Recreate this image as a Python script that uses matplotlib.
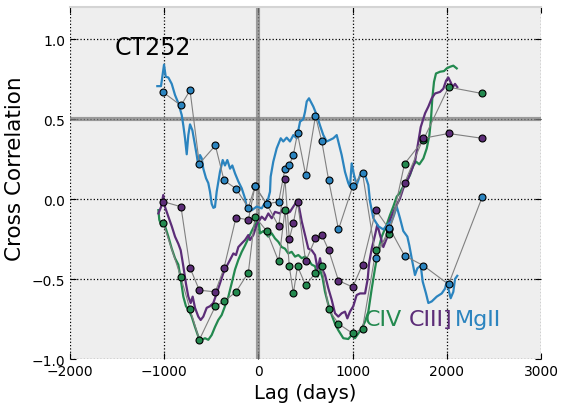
import matplotlib
matplotlib.use("Agg")
import matplotlib.pyplot as plt

# CCF curves (lag in days, correlation)
civ_lag = [-1062, -1052, -1027, -1010, -991, -956, -920, -885, -850, -825, -797, -769, -744, -708,
           -673, -638, -602, -567, -532, -496, -461, -426, -390, -355, -319, -284, -248, -213,
           -177, -142, -107, -71, -36, 0, 17, 52, 105, 141, 176, 211, 247, 282, 317, 353, 389,
           424, 460, 495, 530, 566, 601, 629, 654, 682, 707, 742, 778, 813, 848, 901, 954, 990,
           1025, 1061, 1096, 1132, 1167, 1203, 1238, 1273, 1309, 1362, 1397, 1432, 1468, 1503,
           1538, 1574, 1609, 1644, 1673, 1708, 1751, 1787, 1815, 1832, 1846, 1864, 1885, 1928,
           1970, 1999, 2034, 2069, 2105]
civ_ccf = [-0.069, -0.13, -0.17, -0.15, -0.17, -0.235, -0.31, -0.37, -0.41, -0.50, -0.61, -0.67,
           -0.69, -0.735, -0.80, -0.86, -0.88, -0.87, -0.88, -0.85, -0.80, -0.756, -0.725, -0.67,
           -0.61, -0.527, -0.44, -0.38, -0.33, -0.29, -0.246, -0.20, -0.16, -0.13, -0.215, -0.20,
           -0.235, -0.214, -0.246, -0.267, -0.30, -0.31, -0.34, -0.33, -0.36, -0.35, -0.37, -0.36,
           -0.38, -0.41, -0.42, -0.485, -0.44, -0.496, -0.58, -0.66, -0.725, -0.78, -0.82, -0.87,
           -0.875, -0.85, -0.87, -0.84, -0.81, -0.766, -0.704, -0.56, -0.433, -0.32, -0.235, -0.16,
           -0.10, -0.047, 0.015, 0.04, 0.08, 0.11, 0.15, 0.21, 0.234, 0.217, 0.254, 0.317, 0.40,
           0.50, 0.63, 0.733, 0.785, 0.796, 0.80, 0.817, 0.827, 0.834, 0.817]

ciii_lag = [-1062, -1034, -1010, -991, -956, -920, -885, -850, -825, -797, -769, -744, -719, -698,
            -673, -638, -613, -585, -549, -514, -479, -443, -408, -373, -337, -301, -266, -238,
            -213, -177, -142, -107, -89, -54, -18, 35, 70, 105, 141, 176, 229, 264, 300, 335,
            371, 407, 434, 460, 495, 530, 566, 601, 629, 654, 672, 707, 742, 778, 813, 848, 884,
            919, 944, 972, 1007, 1043, 1079, 1132, 1160, 1175, 1203, 1238, 1262, 1291, 1326,
            1362, 1390, 1432, 1468, 1503, 1538, 1591, 1662, 1698, 1723, 1769, 1804, 1840, 1875,
            1928, 1963, 1992, 2016, 2041, 2063, 2087, 2111]
ciii_ccf = [-0.09, -0.05, 0.025, -0.05, -0.11, -0.17, -0.235, -0.28, -0.32, -0.42, -0.53, -0.61,
            -0.65, -0.61, -0.68, -0.735, -0.756, -0.735, -0.68, -0.67, -0.65, -0.59, -0.527,
            -0.464, -0.42, -0.38, -0.34, -0.35, -0.30, -0.277, -0.256, -0.225, -0.256, -0.225,
            -0.16, -0.11, -0.13, -0.09, -0.12, -0.08, -0.09, -0.058, -0.09, -0.08, -0.047,
            -0.016, -0.058, -0.14, -0.225, -0.31, -0.32, -0.35, -0.44, -0.37, -0.43, -0.475,
            -0.558, -0.63, -0.714, -0.735, -0.714, -0.704, -0.746, -0.704, -0.67, -0.60, -0.59,
            -0.59, -0.50, -0.40, -0.31, -0.225, -0.16, -0.225, -0.30, -0.246, -0.14, -0.08,
            -0.037, 0.004, 0.067, 0.13, 0.234, 0.36, 0.45, 0.536, 0.578, 0.63, 0.66, 0.67, 0.69,
            0.74, 0.76, 0.73, 0.70, 0.72, 0.70]

mgii_lag = [-1073, -1034, -1002, -984, -956, -920, -885, -850, -814, -797, -779, -761, -744, -726,
            -701, -680, -655, -638, -620, -602, -585, -556, -532, -514, -496, -478, -461, -443,
            -408, -379, -355, -330, -301, -277, -248, -213, -177, -142, -124, -71, -18, 35, 52,
            88, 105, 123, 130, 158, 194, 237, 264, 300, 335, 371, 407, 442, 477, 495, 513, 537,
            583, 619, 654, 689, 725, 760, 795, 831, 848, 884, 919, 954, 972, 990, 1015, 1043,
            1079, 1132, 1167, 1185, 1220, 1273, 1326, 1369, 1415, 1440, 1468, 1503, 1538, 1581,
            1602, 1627, 1662, 1687, 1723, 1744, 1779, 1804, 1840, 1893, 1946, 1981, 1999, 2016,
            2041, 2069, 2087, 2111]
mgii_ccf = [0.706, 0.706, 0.84, 0.765, 0.76, 0.72, 0.65, 0.60, 0.525, 0.46, 0.38, 0.28, 0.40,
            0.467, 0.43, 0.36, 0.275, 0.21, 0.275, 0.255, 0.19, 0.13, 0.10, 0.046, -0.03, -0.055,
            -0.05, 0.046, 0.17, 0.244, 0.21, 0.244, 0.19, 0.21, 0.16, 0.11, 0.067, 0.004, -0.05,
            -0.07, -0.047, -0.058, -0.04, -0.016, 0.004, 0.046, 0.14, 0.234, 0.317, 0.38, 0.36,
            0.384, 0.36, 0.40, 0.38, 0.484, 0.50, 0.546, 0.61, 0.63, 0.578, 0.525, 0.46, 0.40,
            0.36, 0.37, 0.38, 0.40, 0.36, 0.275, 0.17, 0.10, 0.077, 0.223, 0.15, 0.088, 0.15,
            0.15, 0.088, -0.016, -0.12, -0.17, -0.19, -0.16, -0.14, -0.10, -0.047, -0.12, -0.20,
            -0.235, -0.29, -0.37, -0.475, -0.433, -0.416, -0.516, -0.59, -0.65, -0.64, -0.61,
            -0.59, -0.56, -0.516, -0.56, -0.62, -0.58, -0.50, -0.48]

# binned (discrete) correlation points, same lags for all lines
pt_lag = [-1010, -822, -726, -627, -457, -365, -238, -107, -36, 88, 215, 282, 328, 371, 415,
          502, 606, 673, 746, 850, 1001, 1105, 1247, 1390, 1551, 1751, 2018, 2374]
civ_pt = [-0.152, -0.49, -0.69, -0.88, -0.67, -0.64, -0.58, -0.46, -0.11, -0.20, -0.39, -0.07,
          -0.42, -0.59, -0.42, -0.54, -0.46, -0.42, -0.69, -0.78, -0.84, -0.81, -0.32, -0.22,
          0.22, 0.37, 0.70, 0.66]
ciii_pt = [-0.016, -0.048, -0.43, -0.57, -0.58, -0.43, -0.116, -0.13, 0.08, -0.03, -0.17, 0.123,
           -0.25, -0.15, -0.017, -0.39, -0.245, -0.225, -0.32, -0.51, -0.55, -0.41, -0.069, -0.19,
           0.10, 0.38, 0.41, 0.38]
mgii_pt = [0.667, 0.585, 0.68, 0.221, 0.335, 0.117, 0.065, -0.054, 0.08, -0.03, -0.017, 0.19,
           0.21, 0.278, 0.41, 0.15, 0.52, 0.36, 0.117, -0.19, 0.08, 0.163, -0.37, -0.18, -0.354,
           -0.416, -0.533, 0.01]

c_civ = '#23894f'
c_ciii = '#5c2d78'
c_mgii = '#2b84bf'

fig = plt.figure(figsize=(5.71, 4.06), dpi=100)
ax = fig.add_axes([0.1226, 0.1133, 0.8249, 0.8667])
ax.set_facecolor('#eeeeee')

ax.axhline(0.5, color='gray', lw=3, alpha=0.75, zorder=1.6)
ax.axvline(0, color='gray', lw=3, alpha=0.75, zorder=1.6)

ax.plot(civ_lag, civ_ccf, color=c_civ, lw=1.6, zorder=3)
ax.plot(ciii_lag, ciii_ccf, color=c_ciii, lw=1.6, zorder=3)
ax.plot(mgii_lag, mgii_ccf, color=c_mgii, lw=1.6, zorder=3)

for vals, col in [(civ_pt, c_civ), (ciii_pt, c_ciii), (mgii_pt, c_mgii)]:
    ax.plot(pt_lag, vals, '-', color='gray', lw=0.8, zorder=4)
    ax.plot(pt_lag, vals, 'o', color=col, mec='k', mew=0.8, ms=5, zorder=5)

ax.text(-1530, 0.95, 'CT252', fontsize=17, va='center', ha='left')
ax.text(1132, -0.79, 'CIV', color=c_civ, fontsize=16, va='baseline')
ax.text(1598, -0.79, 'CIII]', color=c_ciii, fontsize=16, va='baseline')
ax.text(2087, -0.79, 'MgII', color=c_mgii, fontsize=16, va='baseline')

ax.set_xlim(-2000, 3000)
ax.set_ylim(-1.0, 1.2)
ax.set_xticks([-2000, -1000, 0, 1000, 2000, 3000])
ax.set_yticks([-1.0, -0.5, 0.0, 0.5, 1.0])
ax.grid(True, color='k', linestyle=':', lw=0.9)
ax.tick_params(direction='in', top=True, right=True, length=4, labelsize=10)
for s in ['left', 'right', 'bottom']:
    ax.spines[s].set_visible(False)
ax.spines['top'].set_color('#d4d4d4')
ax.spines['top'].set_linewidth(1.5)

ax.set_xlabel('Lag (days)', fontsize=14)
ax.set_ylabel('Cross Correlation', fontsize=15.5)
ax.yaxis.set_label_coords(-0.095, 0.545)

plt.savefig('out.png', dpi=100)
